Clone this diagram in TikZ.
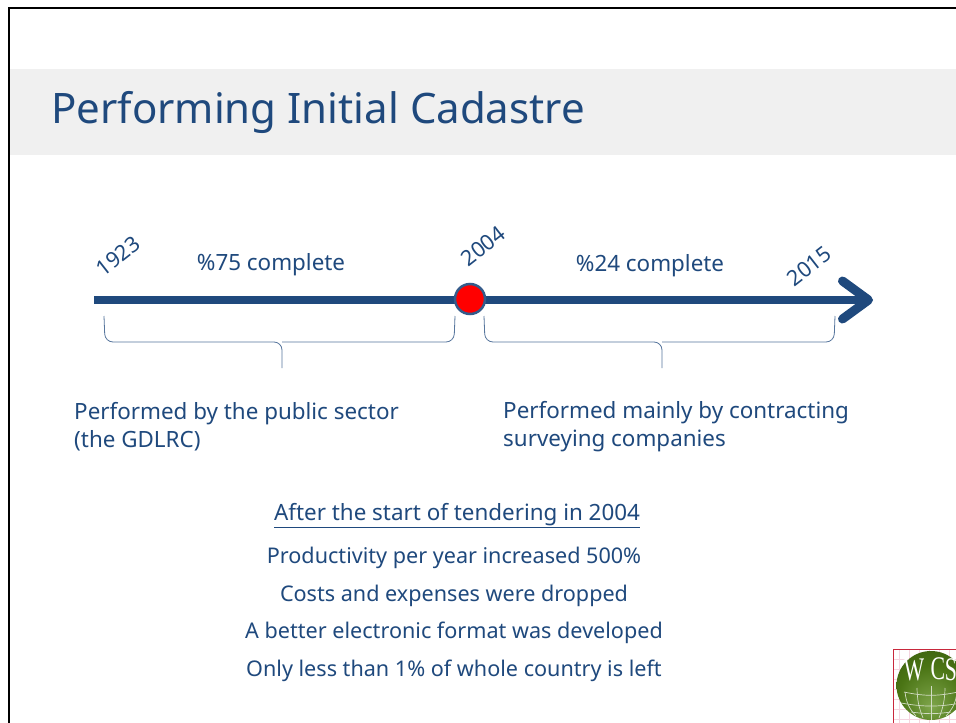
\documentclass[tikz,border=0pt]{standalone}
\usepackage{fontspec}
\setmainfont{Noto Sans}
\newfontfamily\logofont{Liberation Serif}
\usetikzlibrary{arrows.meta}
\definecolor{slideblue}{HTML}{1F497D}
\definecolor{bandgray}{HTML}{F0F0F0}
\definecolor{logored}{HTML}{C8283C}
\definecolor{logogrid}{HTML}{F5D5E0}
\definecolor{logogreen}{HTML}{4A7414}
\definecolor{logomid}{HTML}{7FA64C}
\definecolor{logodark}{HTML}{2C4C0A}
\pgfdeclareradialshading{logoball}{\pgfpoint{0pt}{-16pt}}{
  color(0pt)=(logomid); color(24pt)=(logogreen);
  color(44pt)=(logodark!70!logogreen); color(60pt)=(logodark)}
\begin{document}
\begin{tikzpicture}[x=1pt, y=-1pt]
  \tikzstyle{label}=[text=slideblue, font=\fontsize{22.4}{28}\selectfont, inner sep=0pt]
  \tikzstyle{listline}=[label, font=\fontsize{21.6}{26}\selectfont]
  \tikzstyle{year}=[label, font=\fontsize{21.5}{26}\selectfont, rotate=38]
  \tikzstyle{para}=[label, align=left, anchor=north west]
  \tikzstyle{brace}=[draw=slideblue!75, line width=0.8pt, rounded corners=8pt]
  \tikzstyle{timeline}=[draw=slideblue, line width=8pt]
  \tikzstyle{logogridline}=[white!75!logogreen, line width=0.7pt]
  \tikzstyle{logoletter}=[text=white, font=\logofont\fontsize{33}{36}\selectfont, inner sep=0pt, xscale=0.66]

  \useasboundingbox (0, 0) rectangle (956, 723);
  \fill [white] (0, 0) rectangle (956, 723);
  \fill [bandgray] (10, 69) rectangle (956, 155);
  \draw [black, line width=2.6pt] (9, 723) -- (9, 8) -- (956, 8);

  \node[label, anchor=west, font=\fontsize{42}{48}\selectfont] (title) at (51, 112) {Performing Initial Cadastre};

  \coordinate (start) at (94, 300);
  \coordinate (stop) at (873, 300);
  \path[timeline, -{Straight Barb[length=26pt, width=38pt, line width=9pt, round]}] (start) -- (stop);
  \node[circle, draw=slideblue!90, fill=red, line width=2.5pt, minimum size=30pt, inner sep=0pt] (dot) at (470, 299) {};

  \node[year] (y1923) at (118, 256) {1923};
  \node[year] (y2004) at (483, 246) {2004};
  \node[year] (y2015) at (809, 266) {2015};
  \node[label] (done75) at (271, 264.5) {\%75 complete};
  \node[label] (done24) at (650, 265.5) {\%24 complete};

  \path[brace] (104, 316) -- (105, 342) -- (282, 342) -- (282, 368);
  \path[brace] (455, 316) -- (454, 342) -- (282, 342);
  \path[brace] (484, 316) -- (485, 342) -- (662, 342) -- (662, 368);
  \path[brace] (835, 316) -- (834, 342) -- (662, 342);

  \node[para] (public) at (74, 402) {Performed by the public sector\\(the GDLRC)};
  \node[para] (private) at (503, 401) {Performed mainly by contracting\\surveying companies};

  \node[label] (head) at (457, 516) {\underline{After the start of tendering in 2004}};
  \node[listline] (line1) at (454, 557.5) {Productivity per year increased 500\%};
  \node[listline] (line2) at (454, 595.5) {Costs and expenses were dropped};
  \node[listline] (line3) at (454, 632.5) {A better electronic format was developed};
  \node[listline] (line4) at (454, 670.5) {Only less than 1\% of whole country is left};

  % logo, cut by the slide edge
  \begin{scope}
    \clip (893, 649) rectangle (956, 723);
    \fill [white] (893, 649) rectangle (956, 723);
    \foreach \x in {899, 909, ..., 955} \draw [logogrid, line width=0.8pt] (\x, 649) -- (\x, 723);
    \foreach \y in {659, 669, ..., 723} \draw [logogrid, line width=0.8pt] (893, \y) -- (956, \y);
    \draw [logored, line width=1.6pt] (956, 649.5) -- (893.5, 649.5) -- (893.5, 723);
    \shade [shading=logoball] (931, 685.5) circle (34.5);
    \draw [logogridline] (904, 692) to[bend right=12] (958, 692);
    \draw [logogridline] (901, 703) to[bend right=10] (961, 703);
    \draw [logogridline] (911, 712) to[bend right=8] (951, 712);
    \draw [logogridline] (931, 686) -- (931, 720);
    \draw [logogridline] (917, 688) to[bend right=10] (923, 718);
    \draw [logogridline] (945, 688) to[bend left=10] (939, 718);
    \draw [logogridline] (905, 692) to[bend right=18] (916, 716);
    \draw [logogridline] (957, 692) to[bend left=18] (946, 716);
    \node[logoletter] (logow) at (914, 670) {W};
    \node[logoletter] (logoc) at (938, 669) {C};
    \node[logoletter] (logos) at (951, 670) {S};
  \end{scope}
\end{tikzpicture}
\end{document}
